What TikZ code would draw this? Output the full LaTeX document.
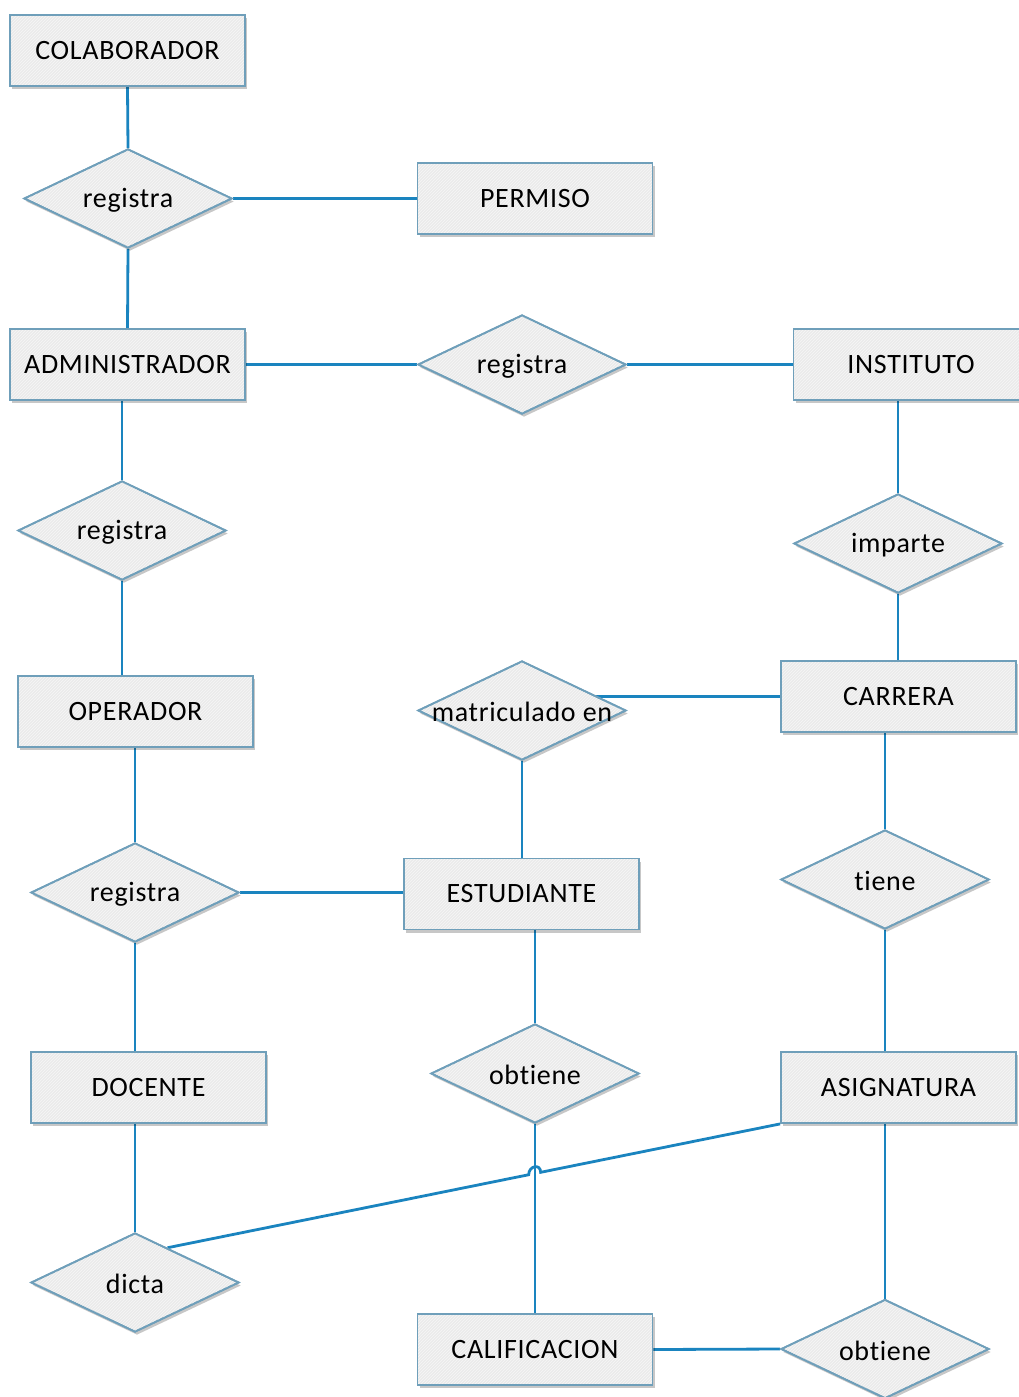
\documentclass[tikz,border=0pt]{standalone}
\usepackage{fontspec}
\setmainfont[LetterSpace=2.5,Ligatures={NoCommon,NoContextual}]{Carlito}
\usetikzlibrary{shapes.geometric,shadows,patterns,calc}
\definecolor{linkblue}{HTML}{1A84BF}
\definecolor{edgeblue}{HTML}{6F9FBA}
\definecolor{boxfill}{HTML}{EBEBEB}
\definecolor{stripe}{HTML}{F6F6F6}
\pgfdeclarelayer{background}
\pgfsetlayers{background,main}
\tikzset{
  erfont/.style={font=\fontsize{28}{30}\selectfont},
  er/.style={draw=edgeblue, line width=1.8pt, fill=boxfill,
    drop shadow={shadow xshift=2pt, shadow yshift=-3pt, opacity=0.22, fill=black},
    postaction={pattern=north east lines, pattern color=stripe},
    postaction={draw=edgeblue, line width=1.8pt}},
  entity/.style={er, erfont, rectangle, minimum width=235pt, minimum height=71pt, inner sep=0pt},
  relation/.style={er, diamond, minimum width=208pt, minimum height=99pt, inner sep=0pt,
    label={[erfont, yshift=-1.5pt]center:#1}},
  link/.style={draw=linkblue, line width=2.8pt},
}
\begin{document}
\begin{tikzpicture}[x=1pt,y=-1pt]
\useasboundingbox (0,0) rectangle (1019,1397);

% entities
\node[entity] (colab)   at (127.5,50.5)   {COLABORADOR};
\node[entity] (permiso) at (535,198.5)    {PERMISO};
\node[entity] (admin)   at (127.5,364.5)  {ADMINISTRADOR};
\node[entity] (inst)    at (911,364.5)    {INSTITUTO};
\node[entity] (oper)    at (135.5,711.5)  {OPERADOR};
\node[entity] (carrera) at (898.5,696.5)  {CARRERA};
\node[entity] (est)     at (521.5,894)    {ESTUDIANTE};
\node[entity] (doc)     at (148.5,1087.5) {DOCENTE};
\node[entity] (asig)    at (898.5,1087.5) {ASIGNATURA};
\node[entity] (calif)   at (535,1349.5)   {CALIFICACION};

% relationships
\node[relation=registra]       (r1)     at (128,198.5)  {};
\node[relation=registra]       (r2)     at (522,364.5)  {};
\node[relation=registra]       (r3)     at (122,530.5)  {};
\node[relation=imparte]        (imp)    at (898,543.5)  {};
\node[relation=matriculado en] (matric) at (522,710.5)  {};
\node[relation=registra]       (r4)     at (135,892.5)  {};
\node[relation=tiene]          (tiene)  at (885,879.5)  {};
\node[relation=obtiene]        (ob1)    at (535,1073.5) {};
\node[relation=dicta]          (dicta)  at (135,1282.5) {};
\node[relation=obtiene]        (ob2)    at (885,1349)   {};

\coordinate (dq) at ($(dicta.north)!0.31!(dicta.east)$);
\coordinate (hr) at ($(asig.south west)!0.3909!(dq)$);
\coordinate (hl) at ($(asig.south west)!0.4104!(dq)$);

\begin{pgfonlayer}{background}
\fill[white] (0,0) rectangle (1019,1397);
\draw[link] (colab.south) -- (r1.north);
\draw[link] (r1.east) -- (permiso.west);
\draw[link] (r1.south) -- (admin.north);
\draw[link] (admin.east) -- (r2.west);
\draw[link] (r2.east) -- (inst.west);
\draw[link] (r3.north) -- (r3.north |- admin.south);
\draw[link] (r3.south) -- (r3.south |- oper.north);
\draw[link] (imp.north) -- (imp.north |- inst.south);
\draw[link] (imp.south) -- (imp.south |- carrera.north);
\draw[link] (carrera.west) -- (carrera.west -| matric.center);
\draw[link] (matric.south) -- (matric.south |- est.north);
\draw[link] (r4.north) -- (r4.north |- oper.south);
\draw[link] (r4.south) -- (r4.south |- doc.north);
\draw[link] (r4.east) -- (r4.east -| est.west);
\draw[link] (ob1.north) -- (ob1.north |- est.south);
\draw[link] (ob1.south) -- (ob1.south |- calif.north);
\draw[link] (tiene.north) -- (tiene.north |- carrera.south);
\draw[link] (tiene.south) -- (tiene.south |- asig.north);
\draw[link] (ob2.north) -- (ob2.north |- asig.south);
\draw[link] (calif.east) -- (ob2.west);
\draw[link] (dicta.north) -- (dicta.north |- doc.south);
% dicta -- ASIGNATURA, hopping over the vertical link at x = 535
\draw[link] (asig.south west) -- (hr)
  .. controls ($(hr)+(0,-9)$) and ($(hl)+(0,-9)$) .. (hl) -- (dq);
\end{pgfonlayer}
\end{tikzpicture}
\end{document}
